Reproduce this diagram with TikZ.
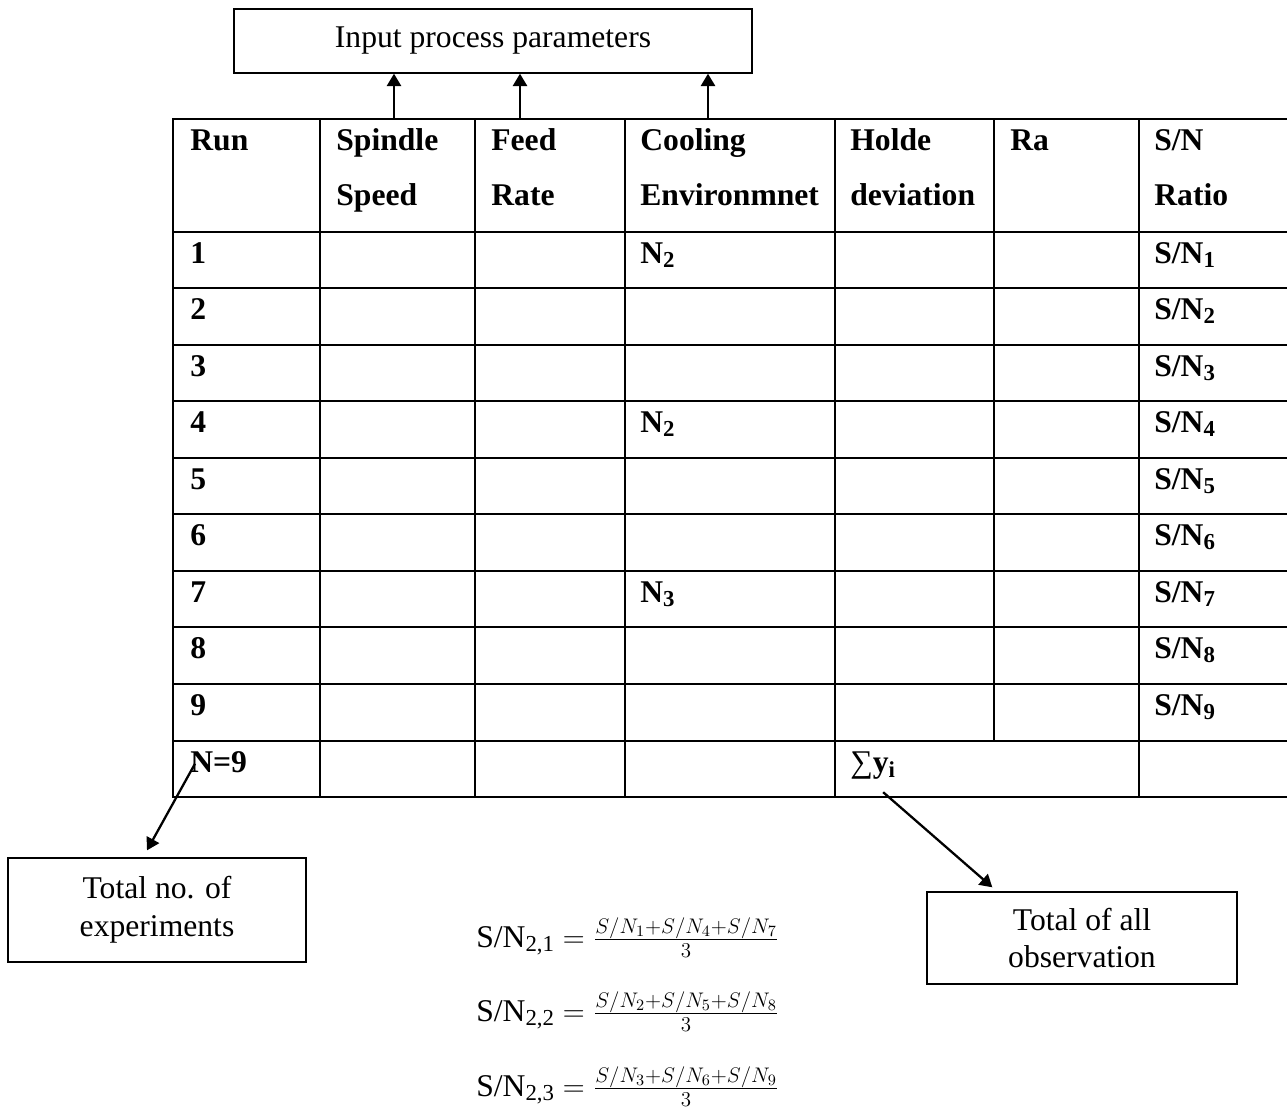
\documentclass[tikz,border=0pt]{standalone}
\usepackage{fontspec}
\setmainfont{Liberation Serif}
\DeclareMathSizes{18}{18}{13}{9}
\usetikzlibrary{arrows.meta,calc}

\begin{document}
\begin{tikzpicture}[x=0.02cm, y=-0.02cm, font=\fontsize{18}{21.6}\selectfont]
			\tikzset{kasten/.style={rectangle, draw=black, line width=0.8pt, align=center, inner sep=0},
			zelle/.style={anchor=base west, inner sep=0, align=left, font=\fontsize{18}{31.2}\selectfont\bfseries},
			formel/.style={anchor=base west, inner sep=0},
			linie/.style={line width=1.1pt, line cap=rect},
			pfeil/.style={line width=1.3pt, -{Triangle[length=7pt, width=8pt]}}}
\useasboundingbox (0,0) rectangle (1287,1113);

% boxes
\node[kasten, minimum width=10.36cm, minimum height=1.28cm] at (493, 41) (inp) {Input process parameters};
\node[kasten, minimum width=5.96cm, minimum height=2.08cm] at (157, 910) (tot) {Total no. of\\experiments};
\node[kasten, minimum width=6.2cm, minimum height=1.84cm] at (1082, 938) (obs) {Total of all\\observation};

% table
			\draw [linie] (173,119) -- (1287,119) (173,232) -- (1287,232) (173,288) -- (1287,288) (173,345) -- (1287,345)
				(173,401) -- (1287,401) (173,458) -- (1287,458) (173,514) -- (1287,514) (173,571) -- (1287,571)
				(173,627) -- (1287,627) (173,684) -- (1287,684) (173,741) -- (1287,741) (173,797) -- (1287,797);
			\draw [linie] (173,119) -- (173,797) (320,119) -- (320,797) (475,119) -- (475,797) (625,119) -- (625,797)
				(835,119) -- (835,797) (994,119) -- (994,741) (1139,119) -- (1139,797);

% two-line cells sit on the baseline of their last line
\node[zelle] at (190, 150) (run) {Run};
\node[zelle] at (336, 205) (sp) {Spindle\\Speed};
\node[zelle] at (491, 205) (fr) {Feed\\Rate};
\node[zelle] at (640, 205) (ce) {Cooling\\Environmnet};
\node[zelle] at (850, 205) (hd) {Holde\\deviation};
\node[zelle] at (1010, 150) (ra) {Ra};
\node[zelle] at (1154, 205) (sn) {S/N\\Ratio};

\node[zelle] at (190, 263) (r1) {1};
\node[zelle] at (190, 319) (r2) {2};
\node[zelle] at (190, 376) (r3) {3};
\node[zelle] at (190, 432) (r4) {4};
\node[zelle] at (190, 489) (r5) {5};
\node[zelle] at (190, 545) (r6) {6};
\node[zelle] at (190, 602) (r7) {7};
\node[zelle] at (190, 658) (r8) {8};
\node[zelle] at (190, 715) (r9) {9};
\node[zelle] at (190, 772) (n9) {N=9};

\node[zelle] at (640, 263) (c1) {N\textsubscript{2}};
\node[zelle] at (640, 432) (c4) {N\textsubscript{2}};
\node[zelle] at (640, 602) (c7) {N\textsubscript{3}};

\node[zelle] at (1154, 263) (s1) {S/N\textsubscript{1}};
\node[zelle] at (1154, 319) (s2) {S/N\textsubscript{2}};
\node[zelle] at (1154, 376) (s3) {S/N\textsubscript{3}};
\node[zelle] at (1154, 432) (s4) {S/N\textsubscript{4}};
\node[zelle] at (1154, 489) (s5) {S/N\textsubscript{5}};
\node[zelle] at (1154, 545) (s6) {S/N\textsubscript{6}};
\node[zelle] at (1154, 602) (s7) {S/N\textsubscript{7}};
\node[zelle] at (1154, 658) (s8) {S/N\textsubscript{8}};
\node[zelle] at (1154, 715) (s9) {S/N\textsubscript{9}};
\node[zelle] at (850, 772) (sy) {{\mdseries ∑}y\textsubscript{i}};

% formulas
\node[formel] at (476, 947) (f1) {S/N\textsubscript{2,1} $=\frac{S/N_1+S/N_4+S/N_7}{3}$};
\node[formel] at (476, 1021) (f2) {S/N\textsubscript{2,2} $=\frac{S/N_2+S/N_5+S/N_8}{3}$};
\node[formel] at (476, 1096) (f3) {S/N\textsubscript{2,3} $=\frac{S/N_3+S/N_6+S/N_9}{3}$};

% arrows
\coordinate (a) at (394, 119);
\coordinate (b) at (520, 119);
\coordinate (c) at (708, 119);
			\draw [pfeil] (a) -- (a |- inp.south);
			\draw [pfeil] (b) -- (b |- inp.south);
			\draw [pfeil] (c) -- (c |- inp.south);
			\draw [pfeil] ($(n9.west)+(5,2)$) -- ($(tot.north)+(-10,-7)$);
			\draw [pfeil] ($(sy.south)+(10,13)$) -- ($(obs.north west)+(66,-4)$);
		\end{tikzpicture}
\end{document}
